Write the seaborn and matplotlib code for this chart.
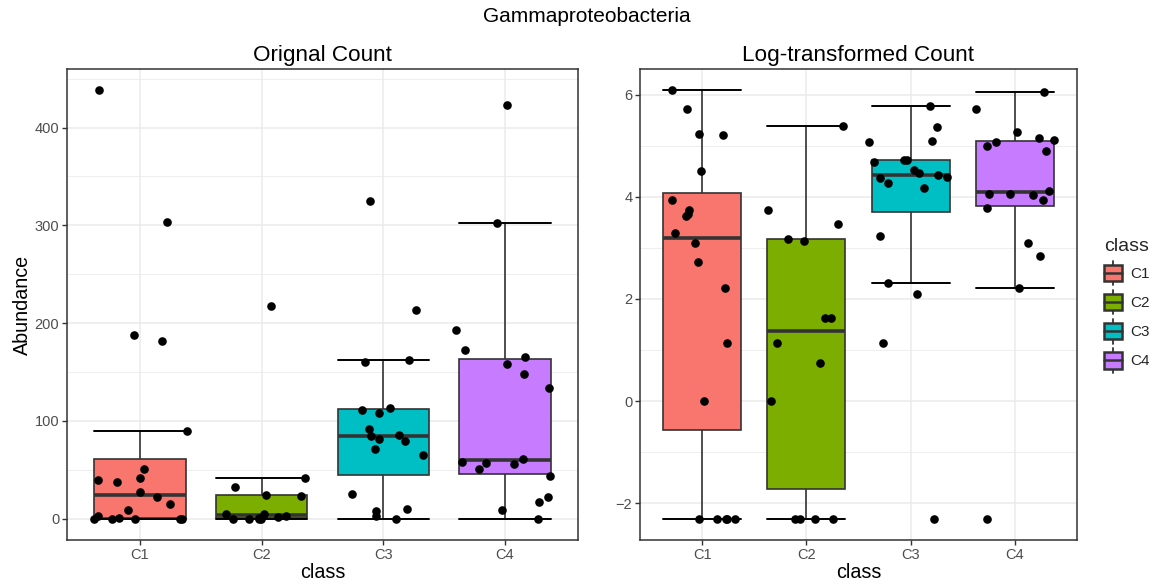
import numpy as np
import pandas as pd
import seaborn as sns
import matplotlib
matplotlib.use("Agg")
import matplotlib.pyplot as plt
from matplotlib.patches import Rectangle, Patch
from matplotlib.lines import Line2D
from matplotlib.legend_handler import HandlerBase
from matplotlib.ticker import MultipleLocator

# Raw abundance counts per class
classes = ["C1", "C2", "C3", "C4"]
c1_counts = [438, 303, 188, 182, 90, 51, 42, 39, 37, 27, 22, 15, 9, 3, 0.9, 0, 0, 0, 0, 0]
c2_counts = [217, 42, 32, 24, 23, 5, 5, 3, 2, 0.9, 0, 0, 0, 0]
c3_counts = [325, 213, 162, 160, 113, 111, 108, 92, 86, 84, 81, 79, 71, 65, 25, 10, 8, 3, 0]
c4_counts = [423, 302, 193, 172, 165, 158, 148, 134, 61, 58, 57, 56, 51, 44, 22, 17, 9, 0]
palette = ["#F8766D", "#7CAE00", "#00BFC4", "#C77CFF"]
pseudo = 0.1

rows = []
for cls, vals in zip(classes, [c1_counts, c2_counts, c3_counts, c4_counts]):
    for v in vals:
        rows.append((cls, v))
df = pd.DataFrame(rows, columns=["class", "count"])
df["logcount"] = np.log(df["count"] + pseudo)

sns.set_theme(style="white")
plt.rcParams["font.family"] = ["Liberation Sans", "DejaVu Sans"]

fig = plt.figure(figsize=(11.56, 5.86), dpi=100)
W, H = 1156, 586
ax1 = fig.add_axes([67 / W, 46 / H, (578 - 67) / W, (540 - 69) / H])
ax2 = fig.add_axes([640 / W, 46 / H, (1077 - 640) / W, (540 - 69) / H])

edge = "#333333"
tick_col = "#4d4d4d"
np.random.seed(7)


def draw_panel(ax, col, title, step):
    sns.boxplot(data=df, x="class", y=col, hue="class", order=classes,
                hue_order=classes, palette=palette, width=0.75, whis=1.5,
                showfliers=False, linecolor=edge, linewidth=1.2,
                saturation=1, legend=False, ax=ax, dodge=False,
                medianprops=dict(color=edge, linewidth=2.6),
                capprops=dict(color="black", linewidth=1.4),
                whiskerprops=dict(color=edge, linewidth=1.2),
                capwidths=0.75)
    sns.stripplot(data=df, x="class", y=col, order=classes, color="black",
                  jitter=0.4, size=6.2, linewidth=0, ax=ax, zorder=4)
    lo, hi = df[col].min(), df[col].max()
    pad = 0.05 * (hi - lo)
    ax.set_ylim(lo - pad, hi + pad)
    ax.set_xlim(-0.6, len(classes) - 0.4)
    ax.yaxis.set_major_locator(MultipleLocator(step))
    ax.yaxis.set_minor_locator(MultipleLocator(step / 2))
    ax.grid(True, which="major", color="#ebebeb", linewidth=1.1, zorder=0)
    ax.grid(True, which="minor", axis="y", color="#ebebeb", linewidth=0.6, zorder=0)
    ax.set_axisbelow(True)
    for s in ax.spines.values():
        s.set_color(edge)
        s.set_linewidth(1.1)
        s.set_visible(True)
    ax.tick_params(axis="both", which="major", length=3.5, width=1.0,
                   color=edge, labelcolor=tick_col, labelsize=10.5, pad=2,
                   left=True, bottom=True)
    ax.tick_params(axis="y", which="minor", length=0)
    ax.set_title(title, fontsize=16.2, color="black", pad=6)
    ax.set_xlabel("class", fontsize=14.2, color="black", labelpad=1)


draw_panel(ax1, "count", "Orignal Count", 100)
draw_panel(ax2, "logcount", "Log-transformed Count", 2)
ax1.set_ylabel("Abundance", fontsize=14.2, color="black", labelpad=2)
ax2.set_ylabel("")

fig.text(587 / W, 1 - 17 / H, "Gammaproteobacteria", ha="center", va="center",
         fontsize=15, color="black")


class BoxKey(HandlerBase):
    def create_artists(self, legend, orig_handle, xdescent, ydescent,
                       width, height, fontsize, trans):
        fc = orig_handle.get_facecolor()
        x0, y0 = -xdescent, -ydescent
        bw = width
        bx = x0
        rect = Rectangle((bx, y0 + 0.17 * height), bw, 0.66 * height,
                         facecolor=fc, edgecolor=edge, linewidth=1.8,
                         transform=trans)
        med = Line2D([bx, bx + bw], [y0 + 0.5 * height] * 2, color=edge,
                     linewidth=1.8, transform=trans)
        xc = x0 + width / 2
        top = Line2D([xc, xc], [y0 + 0.83 * height, y0 + height], color=edge,
                     linewidth=1.3, transform=trans)
        bot = Line2D([xc, xc], [y0, y0 + 0.17 * height], color=edge,
                     linewidth=1.3, transform=trans)
        return [top, bot, rect, med]


handles = [Patch(facecolor=c, label=k) for c, k in zip(palette, classes)]
leg = fig.legend(handles=handles, labels=classes, title="class",
                 handler_map={Patch: BoxKey()},
                 loc="upper left", bbox_to_anchor=(1104 / W, 1 - 238 / H),
                 frameon=False, fontsize=11, title_fontsize=14,
                 handlelength=1.15, handleheight=2.1, handletextpad=0.6,
                 labelspacing=0.3, borderaxespad=0, borderpad=0)
leg._legend_box.align = "left"
leg._legend_box.sep = 4

fig.savefig("out.png", dpi=100)
